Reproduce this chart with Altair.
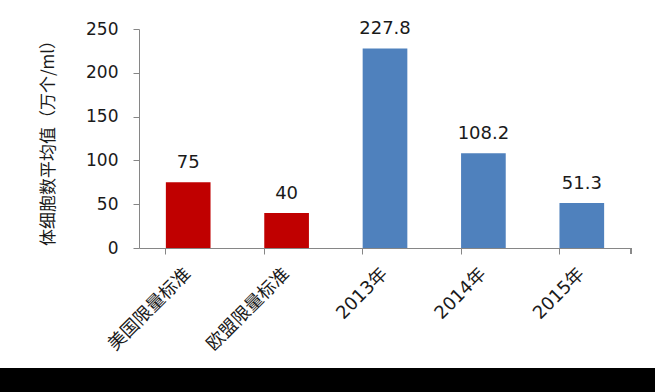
import altair as alt
import pandas as pd

categories = ["美国限量标准", "欧盟限量标准", "2013年", "2014年", "2015年"]
values = [75, 40, 227.8, 108.2, 51.3]
labels = ["75", "40", "227.8", "108.2", "51.3"]
groups = ["标准", "标准", "实测", "实测", "实测"]
y_ticks = [0, 50, 100, 150, 200, 250]

df = pd.DataFrame({"cat": categories, "val": values, "lab": labels, "grp": groups})

FONT = "DejaVu Sans, Noto Sans CJK SC"
AX = "#868686"
TXT = "#1a1a1a"

x = alt.X("cat:N", sort=categories, title=None,
          scale=alt.Scale(paddingInner=0.546, paddingOuter=0.273),
          axis=alt.Axis(labelAngle=-45, labelAlign="right", labelBaseline="middle",
                        labelFontSize=18, labelColor=TXT, labelPadding=17,
                        tickSize=6, tickColor=AX, domainColor=AX,
                        bandPosition=0, labelFont=FONT))
y = alt.Y("val:Q", title="体细胞数平均值（万个/ml）",
          scale=alt.Scale(domain=[0, 250], nice=False),
          axis=alt.Axis(values=y_ticks, grid=False,
                        labelFontSize=17, labelColor=TXT, labelPadding=15,
                        tickSize=6, tickColor=AX, domainColor=AX,
                        titleFontSize=17, titleFontWeight="normal", titleColor=TXT,
                        titlePadding=28, labelFont=FONT, titleFont="Noto Sans CJK SC"))

bars = alt.Chart(df).mark_bar().encode(
    x=x, y=y,
    color=alt.Color("grp:N", scale=alt.Scale(domain=["标准", "实测"], range=["#C00000", "#4F81BD"]), legend=None),
)
text = alt.Chart(df).mark_text(baseline="bottom", dy=-10, fontSize=18, color=TXT, font=FONT).encode(
    x=alt.X("cat:N", sort=categories), y="val:Q", text="lab:N")

# closing tick at the right end of the category axis
end_tick = alt.Chart(df).mark_rule(color=AX, clip=False).encode(
    x=alt.value(492), y=alt.value(219), y2=alt.value(225))

band = alt.Chart(df).mark_rect(color="black", clip=False).encode(
    x=alt.value(-139), x2=alt.value(516), y=alt.value(339), y2=alt.value(370))

chart = alt.layer(bars, text, end_tick, band).properties(
    width=492, height=219,
    autosize=alt.AutoSizeParams(type="none"),
    padding={"left": 139, "top": 29, "right": 24, "bottom": 144},
    background="white",
).configure_view(stroke=None)

chart.save("out.html", embed_options={"renderer": "svg", "actions": False})
